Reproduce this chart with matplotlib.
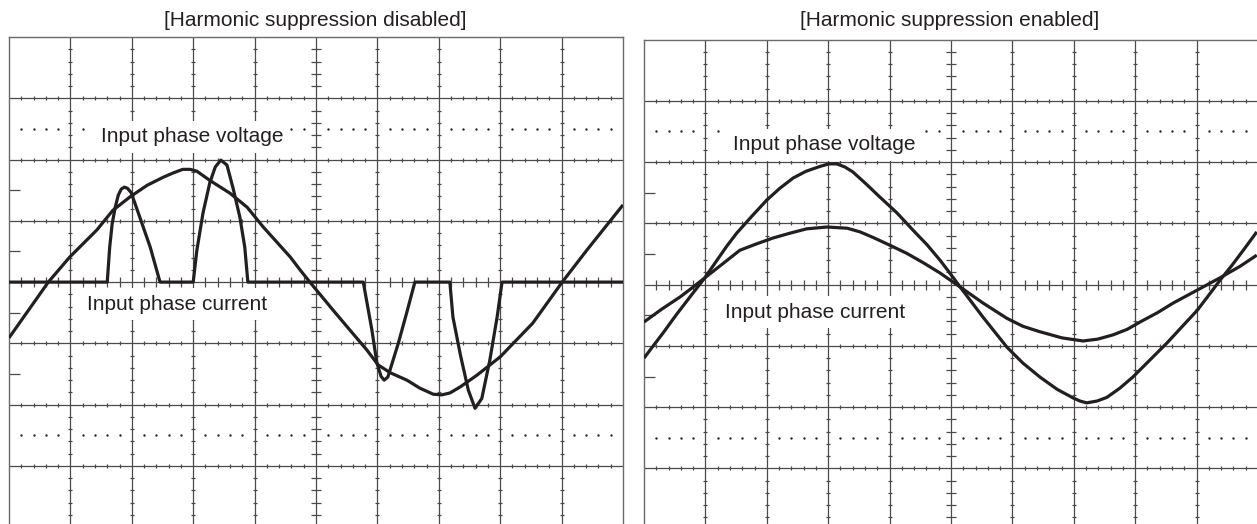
import numpy as np
import matplotlib
matplotlib.use("Agg")
import matplotlib.pyplot as plt

plt.rcParams['font.family'] = ['Liberation Sans', 'DejaVu Sans']

# scope traces, in screen divisions (x: 0..10, y: 0 = centre line)
titles = ["[Harmonic suppression disabled]", "[Harmonic suppression enabled]"]
labels = ["Input phase voltage", "Input phase current"]

off_volt_x = [0.00, 0.64, 0.99, 1.43, 1.69, 1.97, 2.25, 2.51, 2.67, 2.83, 2.95, 3.06,
              3.27, 3.60, 3.88, 4.14, 4.58, 4.74, 4.90, 5.28, 5.55, 5.83, 6.01, 6.21,
              6.48, 6.69, 6.91, 7.05, 7.18, 7.35, 7.62, 8.00, 8.53, 9.01, 9.41, 10.0]
off_volt_y = [-0.91, 0.00, 0.41, 0.85, 1.17, 1.39, 1.58, 1.71, 1.78, 1.84, 1.84, 1.81,
              1.66, 1.45, 1.22, 0.90, 0.41, 0.20, 0.00, -0.46, -0.78, -1.11, -1.35, -1.48,
              -1.60, -1.73, -1.83, -1.84, -1.81, -1.71, -1.52, -1.22, -0.67, 0.00, 0.52, 1.26]

off_curr_x = [0.00, 1.60, 1.64, 1.68, 1.73, 1.78, 1.83, 1.88, 1.93, 1.99, 2.13, 2.30, 2.46,
              3.00, 3.06, 3.16, 3.27, 3.36, 3.45, 3.55, 3.65, 3.76, 3.84, 3.89,
              5.77, 5.91, 5.99, 6.06, 6.11, 6.17, 6.34, 6.48, 6.61,
              7.18, 7.23, 7.35, 7.48, 7.59, 7.70, 7.83, 7.95, 8.03, 10.0]
off_curr_y = [0.00, 0.00, 0.57, 0.95, 1.22, 1.42, 1.52, 1.55, 1.53, 1.46, 1.06, 0.57, 0.00,
              0.00, 0.52, 1.13, 1.62, 1.88, 1.99, 1.91, 1.53, 1.06, 0.57, 0.00,
              0.00, -0.78, -1.31, -1.54, -1.60, -1.55, -1.00, -0.49, 0.00,
              0.00, -0.57, -1.18, -1.76, -2.06, -1.90, -1.28, -0.57, 0.00, 0.00]

on_volt_x = [0.00, 0.15, 0.31, 0.52, 0.75, 0.99, 1.19, 1.35, 1.51, 1.76, 2.00, 2.21,
             2.43, 2.64, 2.87, 3.01, 3.14, 3.27, 3.40, 3.62, 3.84, 4.12, 4.38, 4.61,
             4.82, 4.98, 5.15, 5.52, 5.91, 6.17, 6.45, 6.73, 6.99, 7.10, 7.21, 7.38,
             7.54, 7.75, 7.96, 8.24, 8.52, 8.76, 9.01, 9.20, 9.38, 9.58, 9.76, 9.98]
on_volt_y = [-1.20, -1.00, -0.79, -0.50, -0.20, 0.11, 0.40, 0.63, 0.84, 1.12, 1.38, 1.57,
             1.74, 1.85, 1.93, 1.97, 1.97, 1.92, 1.84, 1.64, 1.43, 1.17, 0.89, 0.65,
             0.40, 0.19, -0.04, -0.53, -1.02, -1.28, -1.51, -1.71, -1.85, -1.90, -1.93, -1.90,
             -1.84, -1.69, -1.51, -1.23, -0.95, -0.69, -0.42, -0.17, 0.07, 0.32, 0.56, 0.86]

on_curr_x = [0.00, 0.29, 0.59, 0.80, 0.99, 1.27, 1.56, 1.82, 2.10, 2.38, 2.65, 2.98,
             3.31, 3.52, 3.73, 4.01, 4.28, 4.56, 4.82, 5.15, 5.52, 5.91, 6.17, 6.45,
             6.81, 7.15, 7.39, 7.64, 7.87, 8.08, 8.36, 8.62, 9.01, 9.38, 9.71, 9.98]
on_curr_y = [-0.61, -0.40, -0.20, -0.04, 0.11, 0.33, 0.56, 0.66, 0.76, 0.84, 0.91, 0.94,
             0.92, 0.86, 0.77, 0.64, 0.51, 0.35, 0.19, -0.04, -0.30, -0.55, -0.68, -0.77,
             -0.87, -0.92, -0.89, -0.82, -0.73, -0.61, -0.46, -0.30, -0.09, 0.11, 0.30, 0.48]

W, H = 1257, 524
fig = plt.figure(figsize=(W / 100, H / 100), dpi=100)

grid_c = '#4a4a4a'
ink = '#231f20'


def scope(ax, ctr_px, vx, vy, cx, cy, vlab, clab):
    div = 61.3
    ylo = -(H - ctr_px) / div
    ax.set_xlim(0, 10)
    ax.set_ylim(ylo, 4)
    ax.set_xticks([])
    ax.set_yticks([-1.5, -0.5, 0.5, 1.5])
    ax.set_yticklabels([])
    ax.tick_params(axis='y', direction='in', length=8, width=0.9, color=grid_c)
    for s in ['top', 'left', 'right']:
        ax.spines[s].set_color('#6a6a6a')
        ax.spines[s].set_linewidth(1.0)
    ax.spines['bottom'].set_visible(False)

    for k in range(1, 10):
        ax.axvline(k, color=grid_c, lw=0.9, zorder=1)
    for j in range(-3, 4):
        ax.axhline(j, color=grid_c, lw=0.9, zorder=1)

    fine = np.round(np.arange(0, 10.01, 0.2), 1)
    fine_x = fine[np.abs(fine - np.round(fine)) > 0.01]
    fy = np.round(np.arange(-4, 4.01, 0.2), 1)
    fy = fy[(np.abs(fy - np.round(fy)) > 0.01) & (fy > ylo) & (fy < 4)]

    # small crossing marks on every graticule line
    for k in range(1, 10):
        ms = 7 if k == 5 else 3.5
        ax.plot(np.full(len(fy), k), fy, ls='none', marker='_', ms=ms, mew=0.9,
                color=grid_c, zorder=1)
    for j in range(-3, 4):
        ms = 7 if j == 0 else 3.5
        ax.plot(fine_x, np.full(len(fine_x), j), ls='none', marker='|', ms=ms, mew=0.9,
                color=grid_c, zorder=1)

    for yd in (2.5, -2.5):
        ax.plot(fine_x, np.full(len(fine_x), yd), ls='none', marker='o', ms=1.7,
                color=ink, mew=0, zorder=1)

    box = dict(boxstyle='square,pad=0.32', facecolor='white', edgecolor='none')
    ax.text(vlab[0], vlab[1], labels[0], fontsize=15, ha='center', va='center',
            bbox=box, zorder=3, color=ink)
    ax.text(clab[0], clab[1], labels[1], fontsize=15, ha='center', va='center',
            bbox=box, zorder=3, color=ink)

    kw = dict(color=ink, lw=2.3, solid_joinstyle='round', solid_capstyle='butt', zorder=5)
    ax.plot(vx, vy, **kw)
    ax.plot(cx, cy, **kw)


ax1 = fig.add_axes([9 / W, 0, 614 / W, (H - 37) / H])
scope(ax1, 282, off_volt_x, off_volt_y, off_curr_x, off_curr_y,
      (2.98, 2.37), (2.74, -0.36))

ax2 = fig.add_axes([644 / W, 0, 614 / W, (H - 39.5) / H])
scope(ax2, 284.5, on_volt_x, on_volt_y, on_curr_x, on_curr_y,
      (2.93, 2.28), (2.78, -0.45))

fig.text(315 / W, 1 - 20 / H, titles[0], fontsize=15, ha='center', va='center', color=ink)
fig.text(950 / W, 1 - 20 / H, titles[1], fontsize=15, ha='center', va='center', color=ink)

fig.savefig('out.png', dpi=100)
